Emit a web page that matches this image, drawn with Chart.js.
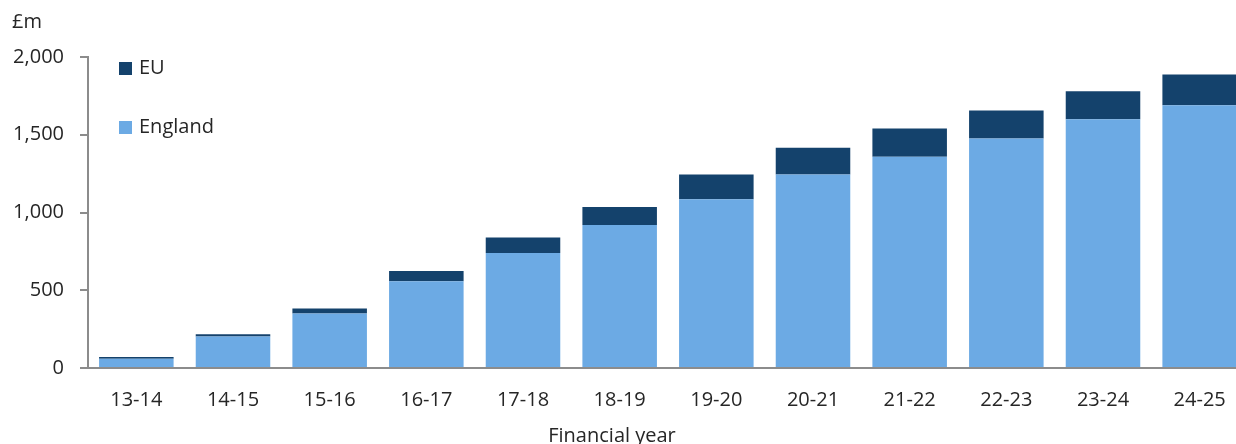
<!DOCTYPE html>
<html>
<head>
<meta charset="utf-8">
<script src="https://cdn.jsdelivr.net/npm/chart.js@4.4.1/dist/chart.umd.min.js"></script>
<style>
  html, body { margin: 0; padding: 0; background: #fff; overflow: hidden; }
  #wrap { width: 1248px; height: 444px; position: relative; }
</style>
</head>
<body>
<div id="wrap"><canvas id="fundingChart"></canvas></div>
<script>
// financial years
const years = ["13-14", "14-15", "15-16", "16-17", "17-18", "18-19",
               "19-20", "20-21", "21-22", "22-23", "23-24", "24-25"];
// £m
const england = [60, 202, 350, 558, 740, 920, 1086, 1244, 1358, 1476, 1600, 1690];
const eu      = [11, 15, 32, 66, 99, 116, 159, 172, 182, 180, 180, 198];
const yTicks  = [0, 500, 1000, 1500, 2000];

const axisGrey = "#8c8c8c";
const textCol = "#262626";
const fontFam = "'Open Sans', 'Noto Sans', sans-serif";

// legend drawn inside the plot, top-left, EU first; plus unit and x title
const insideLegend = {
    id: "insideLegend",
    afterDraw(chart) {
        const ctx = chart.ctx;
        const items = [chart.data.datasets[1], chart.data.datasets[0]];
        ctx.save();
        ctx.font = "20px " + fontFam;
        ctx.textBaseline = "middle";
        items.forEach(function (ds, i) {
            let y = 68 + i * 59;
            ctx.fillStyle = ds.backgroundColor;
            ctx.fillRect(119, y - 6, 13, 13);
            ctx.fillStyle = textCol;
            ctx.fillText(ds.label, 139, y);
        });
        ctx.fillText("£m", 12, 22);
        ctx.textAlign = "center";
        ctx.fillText("Financial year", 612, 436);
        ctx.restore();
    }
};

new Chart("fundingChart", {
    type: "bar",
    data: {
        labels: years,
        datasets: [{
            label: "England",
            data: england,
            backgroundColor: "#6caae4",
            barPercentage: 0.771,
            categoryPercentage: 1.0
        }, {
            label: "EU",
            data: eu,
            backgroundColor: "#14426c",
            barPercentage: 0.771,
            categoryPercentage: 1.0
        }]
    },
    options: {
        responsive: true,
        maintainAspectRatio: false,
        animation: false,
        layout: { padding: { top: 57, left: 0, right: 0, bottom: 0 } },
        plugins: {
            legend: { display: false },
            tooltip: { enabled: false },
            title: { display: false }
        },
        scales: {
            x: {
                stacked: true,
                grid: { drawOnChartArea: false, drawTicks: false },
                border: { color: axisGrey, width: 2 },
                ticks: {
                    color: textCol,
                    font: { size: 20, family: fontFam },
                    padding: 20,
                    maxRotation: 0
                },
                afterFit: function (scale) { scale.height = 76; }
            },
            y: {
                stacked: true,
                min: 0,
                max: 2000,
                afterBuildTicks: function (scale) {
                    scale.ticks = yTicks.map(function (v) { return { value: v }; });
                },
                grid: {
                    drawOnChartArea: false,
                    drawTicks: true,
                    tickLength: 8,
                    color: axisGrey,
                    lineWidth: 2
                },
                border: { color: axisGrey, width: 2 },
                ticks: {
                    color: textCol,
                    font: { size: 20, family: fontFam },
                    padding: 16,
                    callback: function (v) { return v.toLocaleString("en-GB"); }
                },
                afterFit: function (scale) { scale.width = 88; }
            }
        }
    },
    plugins: [insideLegend]
});
</script>
</body>
</html>
